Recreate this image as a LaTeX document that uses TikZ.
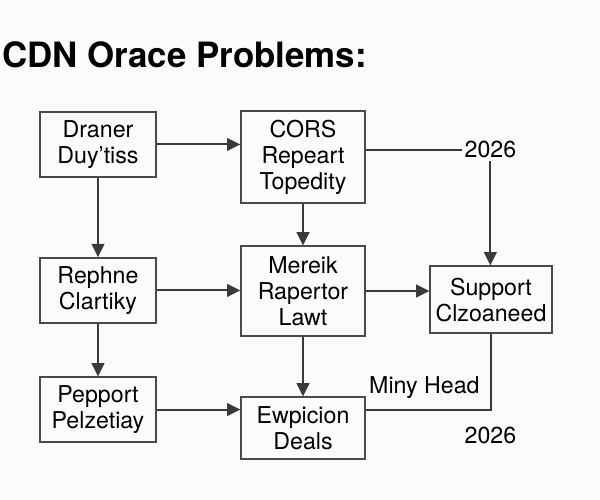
\documentclass[tikz,border=0pt]{standalone}
\usepackage{fontspec}
\setmainfont{TeX Gyre Heros}
\usetikzlibrary{arrows.meta}
\definecolor{cizgiGri}{HTML}{3A3A3A}
\definecolor{kutuGri}{HTML}{4A4A4A}
\definecolor{zemin}{HTML}{FBFBFB}
\begin{document}
\begin{tikzpicture}[scale=1.0,
  kutu/.style={draw=kutuGri,line width=0.9pt,align=center,inner sep=0pt,font=\fontsize{16.5}{18.5}\selectfont},
  cizgi/.style={draw=cizgiGri,line width=1.5pt},
  ok/.style={cizgi,-{Triangle[length=9.5pt,width=9pt]}},
  etiket/.style={anchor=base,inner sep=2pt,font=\fontsize{16.5}{19}\selectfont}]
\fill[zemin] (0,0) rectangle (15,-12.5);
\useasboundingbox (0,0) rectangle (15,-12.5);
\node[anchor=base west,inner sep=0pt,font=\fontsize{24.8}{28}\selectfont\bfseries] (baslik) at (0.05,-1.7) {CDN Orace Problems:};
\node[kutu,minimum width=2.9cm,minimum height=1.625cm] (draner) at (2.45,-3.61) {Draner\\Duy’tiss};
\node[kutu,minimum width=3.1cm,minimum height=2.3cm] (cors) at (7.575,-3.925) {CORS\\Repeart\\Topedity};
\node[kutu,minimum width=2.9cm,minimum height=1.625cm] (rephne) at (2.45,-7.26) {Rephne\\Clartiky};
\node[kutu,minimum width=3.1cm,minimum height=2.25cm] (mereik) at (7.575,-7.275) {Mereik\\Rapertor\\Lawt};
\node[kutu,minimum width=3.05cm,minimum height=1.675cm] (support) at (12.275,-7.49) {Support\\Clzoaneed};
\node[kutu,minimum width=2.9cm,minimum height=1.625cm] (pepport) at (2.45,-10.24) {Pepport\\Pelzetiay};
\node[kutu,minimum width=3.1cm,minimum height=1.55cm] (ewpicion) at (7.575,-10.7) {Ewpicion\\Deals};
\node[etiket] (yilUst) at (12.26,-3.95) {2026};
\node[etiket] (yilAlt) at (12.26,-11.08) {2026};
\node[etiket] (miny) at (10.61,-9.83) {Miny Head};
% oklar
\draw[ok] (draner.east) -- (draner.east -| cors.west);
\draw[ok] (draner) -- (rephne);
\draw[ok] (cors) -- (mereik);
\draw[ok] (rephne.east) -- (rephne.east -| mereik.west);
\draw[ok] (mereik.east) -- (mereik.east -| support.west);
\draw[ok] (rephne) -- (pepport);
\draw[ok] (mereik) -- (ewpicion);
\draw[ok] (pepport.east) -- (pepport.east -| ewpicion.west);
\draw[cizgi] (cors.east |- yilUst.west) -- (yilUst.west);
\draw[ok] (yilUst.south) -- (yilUst.south |- support.north);
\draw[cizgi] (ewpicion.east |- pepport.east) -- (support.south |- pepport.east) -- (support.south);
\end{tikzpicture}
\end{document}
